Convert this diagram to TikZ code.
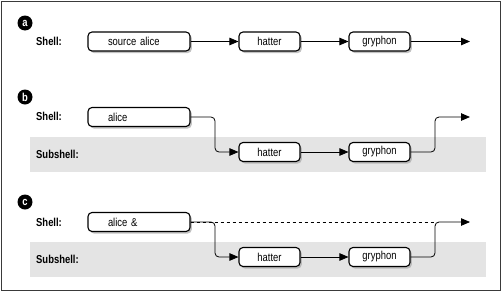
\documentclass[tikz,border=0pt]{standalone}
\usepackage{fontspec}
\setmainfont{Liberation Sans}[FakeStretch=0.82]
\usepackage{tikz}
\usetikzlibrary{arrows.meta,shadows}
\definecolor{SHInk}{HTML}{000000}
\definecolor{SHFrame}{HTML}{3A3A3A}
\definecolor{SHBand}{HTML}{E4E4E4}
\definecolor{SHShadow}{HTML}{A8A8A8}
\tikzset{
  flow/.style={-{Triangle[length=9pt,width=7.5pt]},SHInk,line width=0.8pt,rounded corners=4pt},
  flowdash/.style={SHInk,line width=0.7pt,dashed},
  shellbox/.style={draw=SHInk,line width=1.1pt,fill=white,rounded corners=4pt,
                   minimum height=19pt,inner ysep=0pt,
                   drop shadow={shadow xshift=1.8pt,shadow yshift=-2pt,fill=SHShadow,opacity=.7}},
  cmd/.style={shellbox,text width=62pt,inner xsep=20pt,align=left,
              font=\fontsize{11.5}{13}\selectfont},
  stage/.style={shellbox,minimum width=61pt,inner xsep=2pt,align=center,
                font=\fontsize{11.5}{13}\selectfont},
  tag/.style={circle,fill=SHInk,text=white,minimum size=15pt,inner sep=0pt,
              font=\fontsize{11.5}{11}\selectfont\bfseries},
  rowlabel/.style={anchor=west,inner sep=0pt,font=\fontsize{11.5}{13}\selectfont\bfseries},
  band/.style={fill=SHBand,draw=none},
}
\begin{document}
\begin{tikzpicture}[x=1pt,y=-1pt]
    \useasboundingbox (0,0) rectangle (502,292);
    \draw[SHFrame,line width=1pt] (1,1) rectangle (500,290);

    % a
    \node[tag] (taga) at (25,23) {a};
    \node[rowlabel] (shella) at (36,41) {Shell:};
    \node[cmd] (srca) at (139,41.5) {source alice};
    \node[stage] (hattera) at (269.5,41.5) {hatter};
    \node[stage] (gryphona) at (379.5,41.5) {gryphon};
    \coordinate (enda) at (470,41.5);
    \draw[flow] (srca.east) -- (hattera.west);
    \draw[flow] (gryphona.east) -- (enda);
    \draw[flow] (hattera.east) -- (gryphona.west);

    % b
    \fill[band] (30,137) rectangle (486,172);
    \node[tag] (tagb) at (25,97) {b};
    \node[rowlabel] (shellb) at (36,116) {Shell:};
    \node[rowlabel] (subb) at (36,154) {Subshell:};
    \node[cmd] (aliceb) at (139,117) {alice};
    \node[stage] (hatterb) at (269.5,152) {hatter};
    \node[stage] (gryphonb) at (379.5,152) {gryphon};
    \coordinate (forkb) at (215,117);
    \coordinate (joinb) at (435,117);
    \coordinate (endb) at (470,117);
    \draw[flow] (aliceb.east) -- (forkb) |- (hatterb.west);
    \draw[flow] (hatterb.east) -- (gryphonb.west);
    \draw[flow] (gryphonb.east) -| (joinb) -- (endb);

    % c
    \fill[band] (30,242) rectangle (486,277);
    \node[tag] (tagc) at (25,202) {c};
    \node[rowlabel] (shellc) at (36,222) {Shell:};
    \node[rowlabel] (subc) at (36,259) {Subshell:};
    \node[cmd] (alicec) at (139,222) {alice \&};
    \node[stage] (hatterc) at (269.5,257) {hatter};
    \node[stage] (gryphonc) at (379.5,257) {gryphon};
    \coordinate (forkc) at (215,222);
    \coordinate (joinc) at (435,222);
    \coordinate (endc) at (470,222);
    \draw[flowdash] (alicec.east) -- (joinc);
    \draw[flow] (alicec.east) -- (forkc) |- (hatterc.west);
    \draw[flow] (hatterc.east) -- (gryphonc.west);
    \draw[flow] (gryphonc.east) -| (joinc) -- (endc);
\end{tikzpicture}
\end{document}
